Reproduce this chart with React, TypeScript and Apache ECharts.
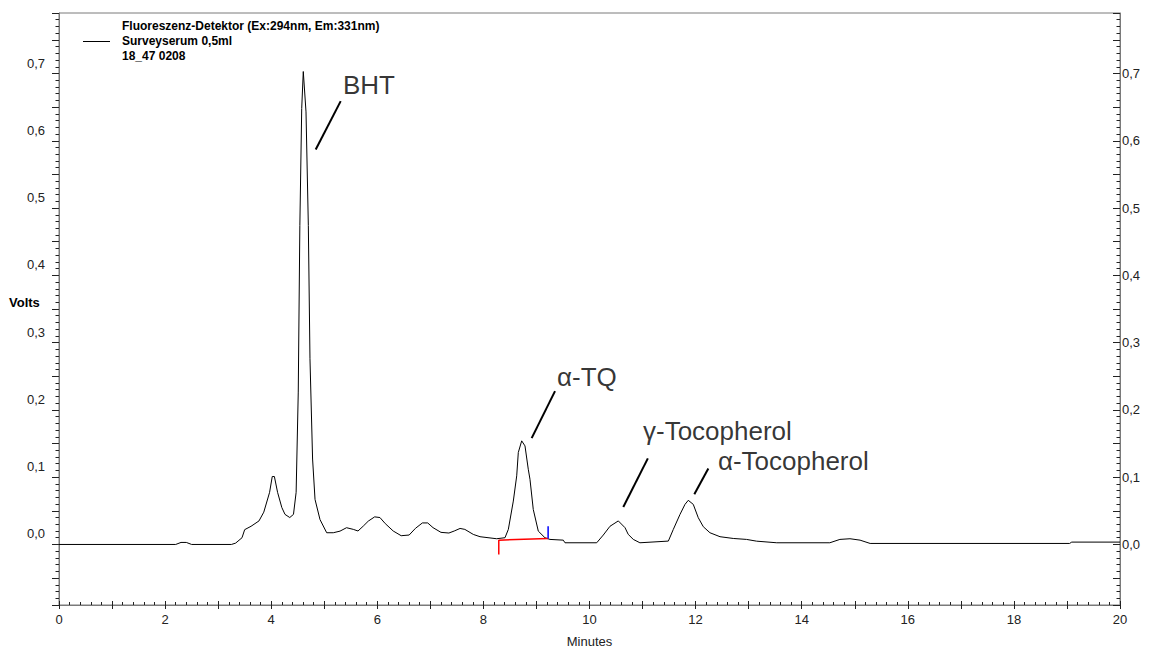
import React, { useEffect, useRef } from 'react';
import * as echarts from 'echarts';

// Chromatogram trace (minutes, volts)
const minutes = [
  0, 2.2, 2.3, 2.4, 2.5, 3.25, 3.33, 3.45, 3.5, 3.62, 3.77, 3.86, 3.97, 4.02, 4.06, 4.12, 4.2, 4.26, 4.35, 4.42,
  4.47, 4.51, 4.54, 4.575, 4.605, 4.656, 4.7, 4.731, 4.78, 4.826, 4.92, 5.046, 5.17, 5.297, 5.42, 5.548, 5.636, 5.736, 5.83, 5.95,
  6.05, 6.15, 6.3, 6.45, 6.6, 6.72, 6.85, 6.95, 7.05, 7.2, 7.35, 7.45, 7.56, 7.65, 7.81, 7.936, 8.25, 8.407, 8.47, 8.564,
  8.628, 8.658, 8.722, 8.784, 8.846, 8.878, 8.94, 9.035, 9.16, 9.255, 9.506, 9.538, 10.136, 10.26, 10.386, 10.543, 10.67, 10.73, 10.826, 10.95,
  11.486, 11.58, 11.706, 11.8, 11.862, 11.956, 12.05, 12.145, 12.27, 12.46, 12.71, 12.96, 13.15, 13.53, 14.53, 14.72, 14.91, 15.1, 15.29, 19.05,
  19.09, 20
];
const volts = [
  0, 0, 0.003, 0.003, 0, 0, 0.002, 0.01, 0.022, 0.027, 0.035, 0.048, 0.0775, 0.101, 0.101, 0.0775, 0.055, 0.0447, 0.04, 0.0447,
  0.0775, 0.2265, 0.474, 0.648, 0.703, 0.643, 0.474, 0.276, 0.127, 0.067, 0.037, 0.0174, 0.0174, 0.0198, 0.0249, 0.0224, 0.02, 0.0273, 0.0347, 0.041,
  0.04, 0.031, 0.02, 0.013, 0.014, 0.024, 0.032, 0.032, 0.025, 0.018, 0.017, 0.02, 0.0238, 0.0224, 0.0149, 0.0115, 0.0085, 0.01, 0.0224, 0.0645,
  0.102, 0.1367, 0.154, 0.1465, 0.1118, 0.0969, 0.052, 0.0198, 0.01, 0.0075, 0.0064, 0.0025, 0.0025, 0.014, 0.027, 0.035, 0.0249, 0.015, 0.0075, 0.0025,
  0.005, 0.0224, 0.0447, 0.0596, 0.0656, 0.0596, 0.0398, 0.0264, 0.0174, 0.0115, 0.0089, 0.0075, 0.0049, 0.0025, 0.0025, 0.0075, 0.0085, 0.0064, 0.0015, 0.0015,
  0.0035, 0.0035
];

// Peak annotations
const peakNames = ['BHT', 'α-TQ', 'γ-Tocopherol', 'α-Tocopherol'];
const labelAnchors = [[5.353, 0.6826], [9.387, 0.2489], [11.008, 0.1684], [12.42, 0.1237]];
const leaderStart = [[5.31, 0.659], [9.35, 0.228], [11.1, 0.128], [12.24, 0.1128]];
const leaderEnd = [[4.839, 0.587], [8.91, 0.158], [10.637, 0.0556], [11.976, 0.0745]];

// Integration baseline of α-TQ
const baselineMinutes = [8.29, 9.22];
const baselineVolts = [0.0064, 0.009];
const startMarkerLow = -0.015;
const endMarkerHigh = 0.027;

const legendLines = ['Fluoreszenz-Detektor (Ex:294nm, Em:331nm)', 'Surveyserum 0,5ml', '18_47 0208'];

const FONT = '"Liberation Sans", Arial, Helvetica, sans-serif';

const yFmt = (v: number) => {
  const k = Math.round(v * 100);
  if (k % 10 !== 0) return '';
  return (k / 100).toFixed(1).replace('.', ',');
};
const xFmt = (v: number) => {
  const k = Math.round(v);
  return k % 2 === 0 ? String(k) : '';
};

export default function App() {
  const ref = useRef<HTMLDivElement>(null);
  useEffect(() => {
    if (!ref.current) return;
    const chart = echarts.init(ref.current, undefined, { renderer: 'svg' });
    const trace = minutes.map((t, i) => [t, volts[i]]);
    const axisColor = '#7a7a7a';
    const tickColor = '#222';
    const yCommon = {
      type: 'value' as const,
      min: -0.09,
      max: 0.79,
      minInterval: 0.05,
      maxInterval: 0.05,
      splitLine: { show: false },
      axisLine: { show: true, onZero: false, lineStyle: { color: axisColor, width: 1 } },
      minorTick: { show: true, splitNumber: 5, length: 3.5, lineStyle: { color: tickColor } },
    };
    const series: any[] = [
      {
        type: 'line',
        data: trace,
        showSymbol: false,
        symbol: 'none',
        lineStyle: { color: '#000', width: 1 },
        z: 5,
      },
      {
        type: 'line',
        data: [[baselineMinutes[0], startMarkerLow], [baselineMinutes[0], baselineVolts[0]], [baselineMinutes[1], baselineVolts[1]]],
        showSymbol: false,
        symbol: 'none',
        lineStyle: { color: '#ff0000', width: 1.5 },
        z: 6,
      },
      {
        type: 'line',
        data: [[baselineMinutes[1], baselineVolts[1]], [baselineMinutes[1], endMarkerHigh]],
        showSymbol: false,
        symbol: 'none',
        lineStyle: { color: '#0000ff', width: 1.5 },
        z: 6,
      },
    ];
    peakNames.forEach((_, i) => {
      series.push({
        type: 'line',
        data: [leaderStart[i], leaderEnd[i]],
        showSymbol: false,
        symbol: 'none',
        lineStyle: { color: '#000', width: 2 },
        z: 7,
      });
    });
    series.push({
      type: 'scatter',
      symbolSize: 0,
      data: peakNames.map((n, i) => ({ name: n, value: labelAnchors[i] })),
      label: {
        show: true,
        position: 'right',
        distance: 0,
        formatter: (p: any) => p.name,
        fontSize: 26,
        fontFamily: FONT,
        color: '#000',
      },
      z: 8,
    });

    chart.setOption({
      animation: false,
      textStyle: { fontFamily: FONT },
      grid: {
        left: 59, right: 29, top: 13, bottom: 45,
        containLabel: false,
        outerBoundsMode: 'none',
        show: true, borderColor: axisColor, borderWidth: 1, backgroundColor: 'transparent',
      },
      xAxis: [
        {
          type: 'value',
          position: 'bottom',
          min: 0,
          max: 20,
          minInterval: 1,
          maxInterval: 1,
          splitLine: { show: false },
          axisLine: { show: true, onZero: false, lineStyle: { color: axisColor } },
          axisTick: { show: true, inside: false, length: 4, lineStyle: { color: tickColor } },
          minorTick: { show: false },
          axisLabel: { formatter: xFmt, fontSize: 13, color: '#222', margin: 8, fontFamily: FONT },
          name: 'Minutes',
          nameLocation: 'middle',
          nameGap: 30,
          nameTextStyle: { fontSize: 13, color: '#222', fontFamily: FONT },
        },
        {
          type: 'value',
          position: 'bottom',
          min: 0,
          max: 20,
          minInterval: 1,
          maxInterval: 1,
          splitLine: { show: false },
          axisLine: { show: false, onZero: false },
          axisTick: { show: true, inside: true, length: 4, lineStyle: { color: tickColor } },
          minorTick: { show: true, splitNumber: 5, length: 3, lineStyle: { color: tickColor } },
          axisLabel: { show: false },
        },
      ],
      yAxis: [
        {
          ...yCommon,
          position: 'left',
          axisTick: { show: true, inside: false, length: 7, lineStyle: { color: tickColor } },
          axisLabel: {
            formatter: yFmt,
            fontSize: 13,
            color: '#222',
            margin: 14,
            verticalAlign: 'bottom',
            padding: [0, 0, 4, 0],
            showMinLabel: false,
            showMaxLabel: false,
            fontFamily: FONT,
          },
        },
        {
          ...yCommon,
          position: 'right',
          axisTick: { show: true, inside: true, length: 7, lineStyle: { color: tickColor } },
          axisLabel: {
            formatter: yFmt,
            fontSize: 13,
            color: '#222',
            margin: 2,
            showMinLabel: false,
            showMaxLabel: false,
            fontFamily: FONT,
          },
        },
      ],
      graphic: [
        {
          type: 'line',
          shape: { x1: 83, y1: 41.5, x2: 110, y2: 41.5 },
          style: { stroke: '#000', lineWidth: 1 },
        },
        ...legendLines.map((txt, i) => ({
          type: 'text',
          x: 122,
          y: 26 + i * 15,
          style: { text: txt, fontSize: 12, fontWeight: 'bold', fontFamily: FONT, fill: '#000', verticalAlign: 'middle' },
        })),
        {
          type: 'text',
          x: 9,
          y: 302,
          style: { text: 'Volts', fontSize: 13, fontWeight: 'bold', fontFamily: FONT, fill: '#000', verticalAlign: 'middle' },
        },
      ],
      series,
    });
    return () => chart.dispose();
  }, []);
  return (
    <div
      ref={ref}
      style={{ position: 'absolute', left: 0, top: 0, width: 1149, height: 650, background: '#fff' }}
    />
  );
}
